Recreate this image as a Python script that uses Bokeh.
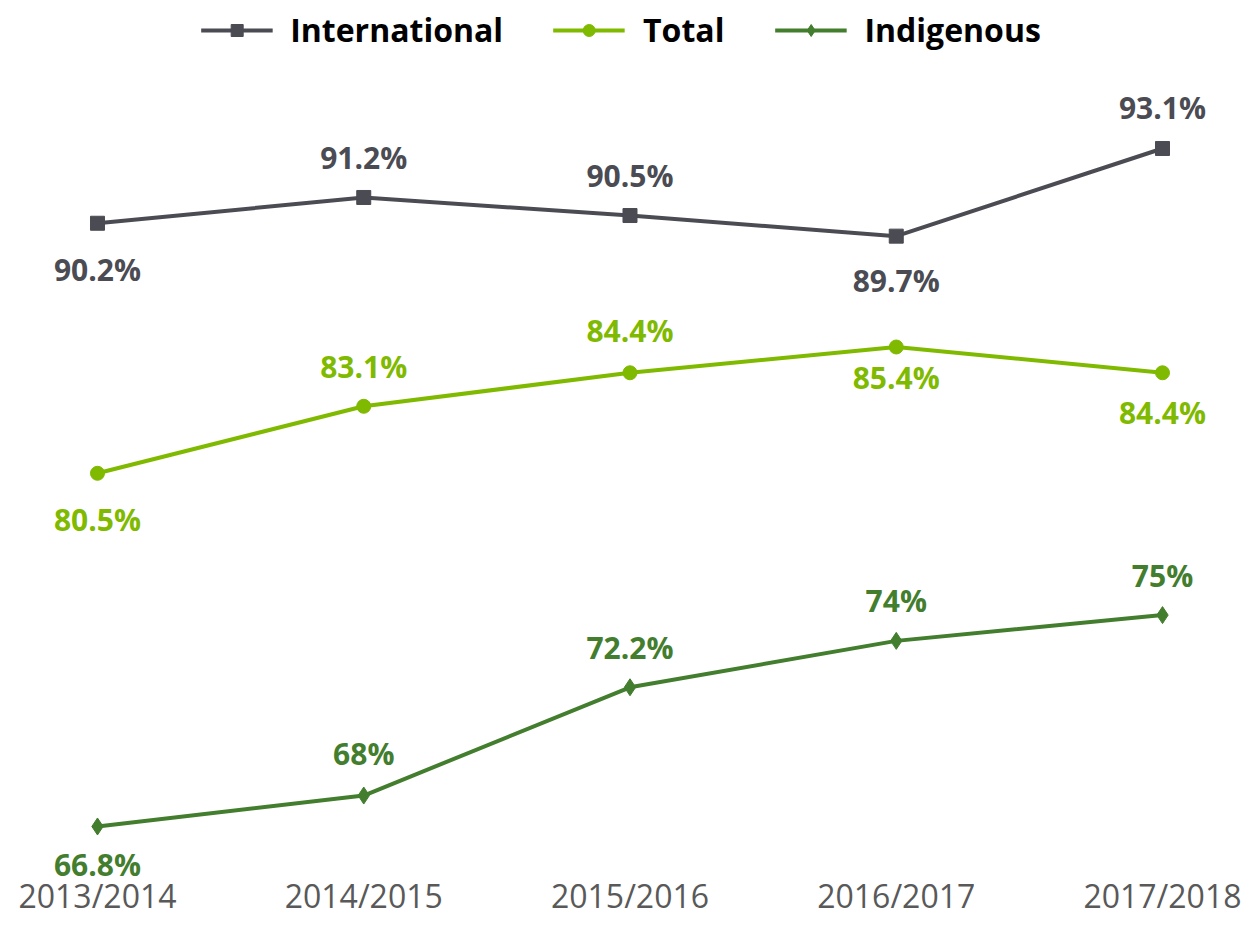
from bokeh.plotting import figure
from bokeh.models import FixedTicker, ColumnDataSource, Range1d, LabelSet
from bokeh.embed import file_html
from bokeh.resources import INLINE
from bokeh.core.properties import value

years = ["2013/2014", "2014/2015", "2015/2016", "2016/2017", "2017/2018"]
international = [90.2, 91.2, 90.5, 89.7, 93.1]
total = [80.5, 83.1, 84.4, 85.4, 84.4]
indigenous = [66.8, 68.0, 72.2, 74.0, 75.0]

# label placement offsets in screen px (positive = below the point)
intl_off = [46, -40, -40, 44, -41]
total_off = [46, -40, -42, 31, 40]
indig_off = [38, -42, -40, -40, -40]

C_INTL = "#4B4B53"
C_TOTAL = "#7FBA00"
C_INDIG = "#437D2E"
FONT = "Open Sans"

xs = list(range(len(years)))

p = figure(frame_width=1241, frame_height=887, output_backend="svg",
           toolbar_location=None, y_axis_location=None,
           x_range=Range1d(-0.3643, 4.2967), y_range=Range1d(64.433, 98.841),
           min_border=0, min_border_left=0, min_border_right=0,
           min_border_top=0, min_border_bottom=0)
p.outline_line_color = None
p.xgrid.visible = False
p.ygrid.visible = False
p.background_fill_color = "white"
p.border_fill_color = "white"


def fmt(v):
    return f"{v:g}%"


series = [
    ("International", international, C_INTL, "square", 14, intl_off),
    ("Total", total, C_TOTAL, "circle", 14, total_off),
    ("Indigenous", indigenous, C_INDIG, "diamond", 17, indig_off),
]

for name, vals, col, marker, size, offs in series:
    src = ColumnDataSource(dict(x=xs, y=vals, lab=[fmt(v) for v in vals],
                                off=[-o for o in offs]))
    p.line("x", "y", source=src, line_color=col, line_width=4, legend_label=name)
    p.scatter("x", "y", source=src, marker=marker, size=size, fill_color=col,
              line_color=col, legend_label=name)
    p.add_layout(LabelSet(x="x", y="y", text="lab", source=src, y_offset="off",
                          text_align="center", text_baseline="middle",
                          text_color=col, text_font=value(FONT),
                          text_font_size="30px", text_font_style="bold"))

ax = p.xaxis[0]
ax.ticker = FixedTicker(ticks=xs)
ax.major_label_overrides = {i: y for i, y in enumerate(years)}
ax.axis_line_color = None
ax.major_tick_line_color = None
ax.minor_tick_line_color = None
ax.major_tick_out = 0
ax.major_tick_in = 0
ax.major_label_text_font = FONT
ax.major_label_text_font_size = "32px"
ax.major_label_text_color = "#595959"
ax.major_label_standoff = -14

lg = p.legend[0]
lg.location = "top_center"
lg.orientation = "horizontal"
lg.label_text_font = FONT
lg.label_text_font_size = "32px"
lg.label_text_font_style = "bold"
lg.label_text_color = "#000000"
lg.border_line_color = None
lg.background_fill_alpha = 0
lg.glyph_width = 72
lg.glyph_height = 30
lg.label_standoff = 18
lg.spacing = 50
lg.margin = 8
lg.padding = 4

open("out.html", "w").write(file_html(p, INLINE))
